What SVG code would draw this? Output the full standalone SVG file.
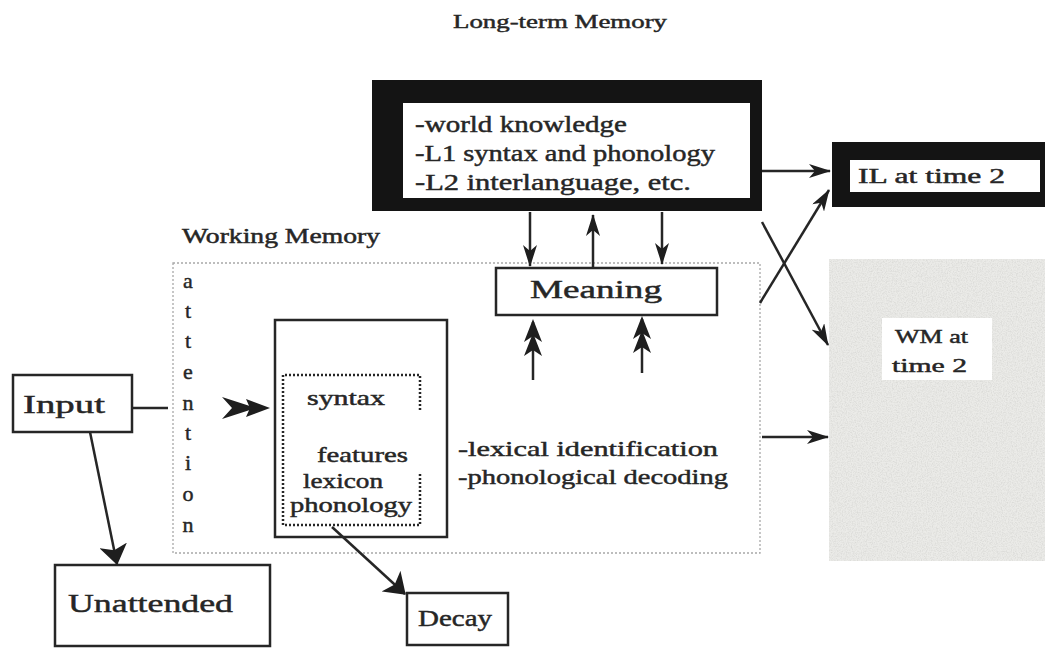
<svg xmlns="http://www.w3.org/2000/svg" width="1045" height="648" viewBox="0 0 1045 648">
<style>
  .t { font-family: "Liberation Serif", "Times New Roman", serif; fill: #262626; stroke: #262626; stroke-width: 0.45; }
  .box { fill: #ffffff; stroke: #262626; stroke-width: 2.5; }
  .ln { stroke: #262626; stroke-width: 2.5; fill: none; }
  .head { fill: #1e1e1e; stroke: none; }
</style>
<defs>
  <marker id="ah" viewBox="0 0 22 14" refX="21" refY="7" markerWidth="22" markerHeight="14" orient="auto" markerUnits="userSpaceOnUse">
    <path d="M0,0 L22,7 L0,14 L6,7 z" fill="#1e1e1e"/>
  </marker>
  <marker id="ahBig" viewBox="0 0 20 28" refX="19" refY="14" markerWidth="20" markerHeight="28" orient="auto" markerUnits="userSpaceOnUse">
    <path d="M0,0 L20,14 L0,28 L5,14 z" fill="#1e1e1e"/>
  </marker>
  <filter id="grain" x="0" y="0" width="100%" height="100%">
    <feTurbulence type="fractalNoise" baseFrequency="0.8" numOctaves="2" seed="4" result="n"/>
    <feColorMatrix in="n" type="matrix" values="0 0 0 0 0.6  0 0 0 0 0.6  0 0 0 0 0.58  0 0 0 1.2 -0.45" result="g"/>
    <feComposite in="g" in2="SourceGraphic" operator="in" result="gc"/>
    <feMerge><feMergeNode in="SourceGraphic"/><feMergeNode in="gc"/></feMerge>
  </filter>
</defs>

<rect x="0" y="0" width="1045" height="648" fill="#ffffff"/>

<!-- Long-term memory -->
<g id="ltm">
  <text class="t" x="453" y="28" font-size="19" textLength="214" lengthAdjust="spacingAndGlyphs">Long-term Memory</text>
  <rect x="372" y="80" width="390" height="131" fill="#141414"/>
  <rect x="403" y="103" width="347" height="95" fill="#ffffff"/>
  <text class="t" x="415" y="132" font-size="23" textLength="212" lengthAdjust="spacingAndGlyphs">-world knowledge</text>
  <text class="t" x="415" y="161" font-size="23" textLength="300" lengthAdjust="spacingAndGlyphs">-L1 syntax and phonology</text>
  <text class="t" x="415" y="190" font-size="23" textLength="276" lengthAdjust="spacingAndGlyphs">-L2 interlanguage, etc.</text>
</g>

<!-- Working memory -->
<g id="working-memory">
  <text class="t" x="182" y="243" font-size="20" textLength="198" lengthAdjust="spacingAndGlyphs">Working Memory</text>
  <rect x="173" y="263" width="587" height="290" fill="none" stroke="#a8a8a8" stroke-width="1.3" stroke-dasharray="2 2"/>
  <g class="t" font-size="22" text-anchor="middle">
    <text x="188" y="288">a</text>
    <text x="188" y="318">t</text>
    <text x="188" y="348">t</text>
    <text x="188" y="379">e</text>
    <text x="188" y="410">n</text>
    <text x="188" y="440">t</text>
    <text x="188" y="470">i</text>
    <text x="188" y="501">o</text>
    <text x="188" y="532">n</text>
  </g>
  <text class="t" x="458" y="456" font-size="22" textLength="260" lengthAdjust="spacingAndGlyphs">-lexical identification</text>
  <text class="t" x="458" y="484" font-size="22" textLength="270" lengthAdjust="spacingAndGlyphs">-phonological decoding</text>
</g>

<!-- Processing box -->
<g id="processing">
  <rect class="box" x="275" y="320" width="172" height="217"/>
  <path d="M420,410 V375 H283 V525 H420 V473" fill="none" stroke="#262626" stroke-width="2.5" stroke-dasharray="2 2"/>
  <text class="t" x="307" y="405" font-size="21" textLength="78" lengthAdjust="spacingAndGlyphs">syntax</text>
  <text class="t" x="317" y="462" font-size="21" textLength="91" lengthAdjust="spacingAndGlyphs">features</text>
  <text class="t" x="303" y="488" font-size="21" textLength="80" lengthAdjust="spacingAndGlyphs">lexicon</text>
  <text class="t" x="290" y="512" font-size="21" textLength="122" lengthAdjust="spacingAndGlyphs">phonology</text>
</g>

<!-- Meaning -->
<g id="meaning">
  <rect class="box" x="496" y="268" width="221" height="47"/>
  <text class="t" x="530" y="298" font-size="26" textLength="132" lengthAdjust="spacingAndGlyphs">Meaning</text>
</g>

<!-- Input -->
<g id="input">
  <rect class="box" x="13" y="375" width="119" height="57"/>
  <text class="t" x="23" y="413" font-size="26" textLength="82" lengthAdjust="spacingAndGlyphs">Input</text>
</g>

<!-- Unattended -->
<g id="unattended">
  <rect class="box" x="55" y="565" width="215" height="81"/>
  <text class="t" x="68" y="612" font-size="26" textLength="165" lengthAdjust="spacingAndGlyphs">Unattended</text>
</g>

<!-- Decay -->
<g id="decay">
  <rect class="box" x="407" y="593" width="101" height="52"/>
  <text class="t" x="418" y="626" font-size="23" textLength="74" lengthAdjust="spacingAndGlyphs">Decay</text>
</g>

<!-- IL at time 2 -->
<g id="il-time2">
  <rect x="832" y="142" width="213" height="65" fill="#141414"/>
  <rect x="850" y="160" width="190" height="32" fill="#ffffff"/>
  <text class="t" x="858" y="183" font-size="20" textLength="147" lengthAdjust="spacingAndGlyphs">IL at time 2</text>
</g>

<!-- WM at time 2 -->
<g id="wm-time2">
  <rect x="829" y="259" width="216" height="302" fill="#ebebe8" filter="url(#grain)"/>
  <rect x="882" y="318" width="110" height="62" fill="#ffffff"/>
  <text class="t" x="895" y="343" font-size="19" textLength="73" lengthAdjust="spacingAndGlyphs">WM at</text>
  <text class="t" x="892" y="372" font-size="19" textLength="75" lengthAdjust="spacingAndGlyphs">time  2</text>
</g>

<!-- Connectors -->
<g id="connectors">
  <line class="ln" x1="530" y1="212" x2="530" y2="266" marker-end="url(#ah)"/>
  <line class="ln" x1="593" y1="268" x2="593" y2="215" marker-end="url(#ah)"/>
  <line class="ln" x1="662" y1="212" x2="662" y2="264" marker-end="url(#ah)"/>

  <!-- fletched upward arrows into Meaning -->
  <line class="ln" x1="533" y1="380" x2="533" y2="322"/>
  <path class="head" d="M533,319 L542,342 L533,336 L524,342 z"/>
  <path class="head" d="M533,333 L542,356 L533,350 L524,356 z"/>
  <line class="ln" x1="642" y1="373" x2="642" y2="319"/>
  <path class="head" d="M642,316 L651,339 L642,333 L633,339 z"/>
  <path class="head" d="M642,330 L651,353 L642,347 L633,353 z"/>

  <!-- Input through attention -->
  <line class="ln" x1="132" y1="408" x2="168" y2="408"/>
  <path class="head" d="M270,408 L246,399 L250,408 L246,417 z"/>
  <path class="head" d="M256,408 L222,397 L232,408 L222,419 z"/>

  <line class="ln" x1="90" y1="432" x2="117" y2="564" marker-end="url(#ahBig)"/>
  <line class="ln" x1="332" y1="527" x2="405" y2="594" marker-end="url(#ahBig)"/>

  <line class="ln" x1="762" y1="171" x2="830" y2="171" marker-end="url(#ah)"/>
  <line class="ln" x1="762" y1="222" x2="828" y2="345" marker-end="url(#ah)"/>
  <line class="ln" x1="760" y1="303" x2="829" y2="190" marker-end="url(#ah)"/>
  <line class="ln" x1="762" y1="437" x2="828" y2="437" marker-end="url(#ah)"/>
</g>
</svg>
